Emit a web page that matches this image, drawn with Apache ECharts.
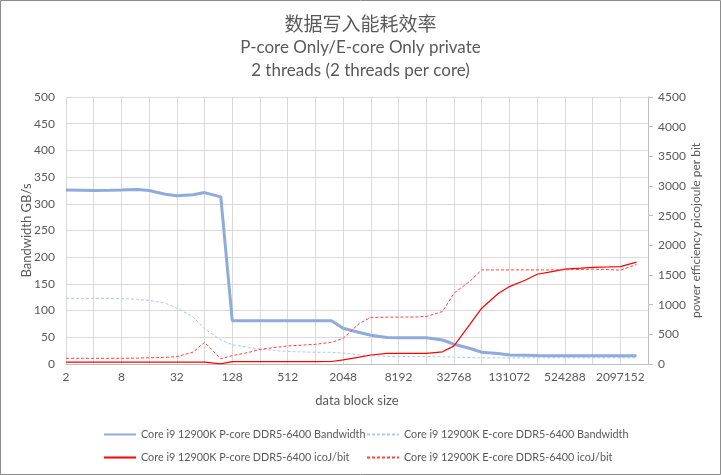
<!DOCTYPE html>
<html>
<head>
<meta charset="utf-8">
<script src="https://cdn.jsdelivr.net/npm/echarts@6/dist/echarts.min.js"></script>
<style>
html,body{margin:0;padding:0;background:#fff;}
#chart{width:721px;height:475px;}
</style>
</head>
<body>
<div id="chart"></div>
<script>
const blockSizes = [2,3,4,6,8,12,16,24,32,48,64,96,128,192,256,384,512,768,1024,1536,2048,3072,4096,6144,8192,12288,16384,24576,32768,49152,65536,98304,131072,196608,262144,393216,524288,786432,1048576,1572864,2097152,3145728];
const pCoreBandwidth = [326,325.5,325,325.5,326,327,325,318,315,317,321,313,81,81,81,81,81,81,81,81,67,59,54,49.5,49,49,49,45,37,29,22,19.5,17,16.5,16,15.5,15.5,15.5,15.5,15.5,15.5,15.5];
const eCoreBandwidth = [123,123,123,123,122.5,121,119,114,105,88,66,45,36,31,28,25,23.5,22.5,22,22,20.5,17,15.5,14.5,14,14,14,13.5,13,12,11.5,11.5,11.5,11.5,11.5,11.5,11.5,11.5,11.5,11.5,11.5,11.5];
const pCorePower = [33,33,33,33,33,33,33,33,33,33,33,3,39,40,40,40,40,40,40,42,70,115,152,180,180,180,180,205,305,676,940,1185,1305,1415,1513,1560,1598,1615,1630,1636,1642,1716];
const eCorePower = [96,96,96,96,96,100,105,112,124,200,365,88,141,195,247,280,305,320,332,366,433,686,785,790,790,792,800,885,1193,1400,1586,1586,1586,1586,1586,1586,1588,1592,1600,1590,1580,1675];
const seriesNames = ['Core i9 12900K P-core DDR5-6400 Bandwidth','Core i9 12900K E-core DDR5-6400 Bandwidth','Core i9 12900K P-core DDR5-6400 icoJ/bit','Core i9 12900K E-core DDR5-6400 icoJ/bit'];

const pair = (vals) => blockSizes.map((s,i) => [s, vals[i]]);
const FONT = 'Lato, "Noto Sans", sans-serif';
const GREY = '#595959';

const chart = echarts.init(document.getElementById('chart'), null, {renderer:'canvas'});
const legendBase = (data, left, top) => ({
  data: data, left: left, top: top, padding: 0, itemWidth: 32, itemHeight: 10, itemGap: 10,
  itemStyle: {opacity: 0},
  textStyle: {color: GREY, fontSize: 10.8, fontFamily: FONT}
});
chart.setOption({
  animation: false,
  backgroundColor: '#fff',
  title: [
    {text: '数据写入能耗效率', left: 'center', top: 9, textStyle: {fontSize: 19, fontWeight: 'normal', color: GREY, fontFamily: '"Noto Sans CJK SC", sans-serif'}},
    {text: 'P-core Only/E-core Only private', left: 'center', top: 34, textStyle: {fontSize: 17, fontWeight: 'normal', color: GREY, fontFamily: FONT}},
    {text: '2 threads (2 threads per core)', left: 'center', top: 57, textStyle: {fontSize: 17, fontWeight: 'normal', color: GREY, fontFamily: FONT}}
  ],
  legend: [
    legendBase([seriesNames[0]], 103, 429),
    legendBase([seriesNames[1]], 366, 429),
    legendBase([seriesNames[2]], 103, 452),
    legendBase([seriesNames[3]], 366, 452)
  ],
  grid: {left: 66, right: 73, top: 97, bottom: 111},
  xAxis: {
    type: 'log', logBase: 2, min: 2, max: 4194304, interval: 1,
    name: 'data block size', nameLocation: 'middle', nameGap: 30,
    nameTextStyle: {color: GREY, fontSize: 13, fontFamily: FONT},
    axisLine: {show: true, lineStyle: {color: '#bfbfbf'}},
    axisTick: {show: false},
    splitLine: {show: true, lineStyle: {color: '#d9d9d9'}},
    axisLabel: {color: GREY, fontSize: 12, fontFamily: FONT, margin: 7,
      formatter: v => (Math.round(Math.log2(v)) % 2 === 1) ? String(v) : ''}
  },
  yAxis: [
    {type: 'value', min: 0, max: 500, interval: 50,
     name: 'Bandwidth GB/s', nameLocation: 'middle', nameGap: 33, nameRotate: 90, nameMoveOverlap: false,
     nameTextStyle: {color: GREY, fontSize: 13, fontFamily: FONT},
     axisLine: {show: false}, axisTick: {show: false},
     splitLine: {show: true, lineStyle: {color: '#d9d9d9'}},
     axisLabel: {color: GREY, fontSize: 12, fontFamily: FONT, margin: 11}},
    {type: 'value', min: 0, max: 4500, interval: 500, position: 'right',
     name: 'power efficiency picojoule per bit', nameLocation: 'middle', nameGap: 42, nameRotate: 90, nameMoveOverlap: false,
     nameTextStyle: {color: GREY, fontSize: 12, fontFamily: FONT},
     axisLine: {show: true, lineStyle: {color: '#bfbfbf'}},
     axisTick: {show: true, inside: false, length: 5, lineStyle: {color: '#bfbfbf'}},
     splitLine: {show: false},
     axisLabel: {color: GREY, fontSize: 12, fontFamily: FONT, margin: 10, formatter: v => String(v)}}
  ],
  series: [
    {name: seriesNames[0], type: 'line', yAxisIndex: 0, data: pair(pCoreBandwidth), showSymbol: false, symbol: 'none',
     lineStyle: {color: '#8faadc', width: 3}, itemStyle: {color: '#8faadc'}, z: 3},
    {name: seriesNames[1], type: 'line', yAxisIndex: 0, data: pair(eCoreBandwidth), showSymbol: false, symbol: 'none',
     lineStyle: {color: '#b4c7e7', width: 1, type: [3, 2]}, itemStyle: {color: '#b4c7e7'}, z: 2},
    {name: seriesNames[2], type: 'line', yAxisIndex: 1, data: pair(pCorePower), showSymbol: false, symbol: 'none',
     lineStyle: {color: '#ff0000', width: 1.2}, itemStyle: {color: '#ff0000'}, z: 4},
    {name: seriesNames[3], type: 'line', yAxisIndex: 1, data: pair(eCorePower), showSymbol: false, symbol: 'none',
     lineStyle: {color: '#ff4040', width: 1, type: [3, 2]}, itemStyle: {color: '#ff4040'}, z: 4}
  ],
  graphic: [
    {type: 'rect', shape: {x: 0.5, y: 0.5, width: 720, height: 474}, style: {fill: null, stroke: '#8c8c8c', lineWidth: 1}, silent: true, z: 100}
  ]
});
</script>
</body>
</html>
